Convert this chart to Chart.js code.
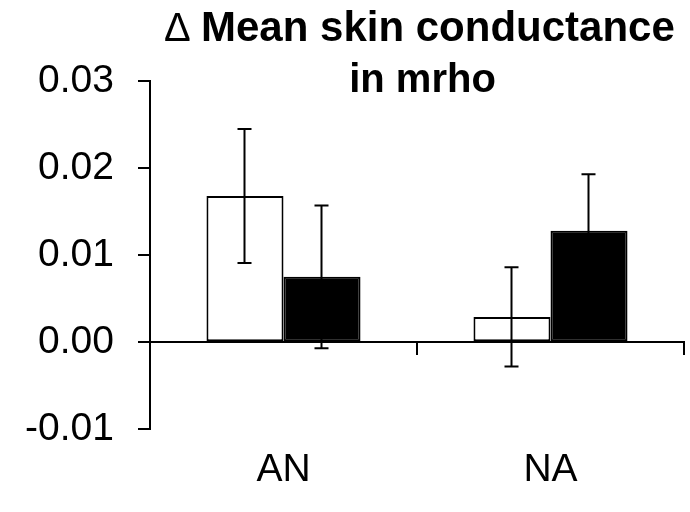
<!DOCTYPE html>
<html>
<head>
<meta charset="utf-8">
<script src="https://cdn.jsdelivr.net/npm/chart.js@4.4.1/dist/chart.umd.min.js"></script>
<style>
  html, body { margin: 0; padding: 0; background: #ffffff; }
  #wrap { width: 690px; height: 512px; }
</style>
</head>
<body>
<div id="wrap"><canvas id="c" width="690" height="512"></canvas></div>
<script>
// ---- data ----
const categories = ['AN', 'NA'];
const whiteValues = [0.0168, 0.0029];
const blackValues = [0.0075, 0.0128];
const whiteErrors = [0.0077, 0.0057];
const blackErrors = [0.0082, 0.0065];
const yMin = -0.01;
const yMax = 0.03;
const yStep = 0.01;
const titleLine1Symbol = '\u0394';
const titleLine1Text = 'Mean skin conductance';
const titleLine2Text = 'in mrho';

const FONT = '"Liberation Sans", Arial, Helvetica, sans-serif';

const errorBarPlugin = {
  id: 'errorBars',
  afterDatasetsDraw(chart) {
    const ctx = chart.ctx;
    const yScale = chart.scales.y;
    chart.data.datasets.forEach((ds, i) => {
      const meta = chart.getDatasetMeta(i);
      meta.data.forEach((bar, j) => {
        const v = ds.data[j];
        const e = ds.errors[j];
        const x = Math.round(bar.x) - 0.5;
        const yTop = yScale.getPixelForValue(v + e);
        const yBot = yScale.getPixelForValue(v - e);
        ctx.save();
        ctx.strokeStyle = '#000';
        ctx.lineWidth = 2;
        ctx.beginPath();
        ctx.moveTo(x, yTop); ctx.lineTo(x, yBot);
        ctx.moveTo(x - 7, yTop); ctx.lineTo(x + 7, yTop);
        ctx.moveTo(x - 7, yBot); ctx.lineTo(x + 7, yBot);
        ctx.stroke();
        ctx.restore();
      });
    });
  }
};

const titlePlugin = {
  id: 'overlayTitle',
  afterDraw(chart) {
    const ctx = chart.ctx;
    ctx.save();
    ctx.fillStyle = '#000';
    ctx.textBaseline = 'alphabetic';
    ctx.textAlign = 'left';
    // line 1: delta symbol (regular weight) + bold text
    ctx.font = '40px ' + FONT;
    ctx.fillText(titleLine1Symbol, 164, 41);
    ctx.font = 'bold 42px ' + FONT;
    ctx.fillText(titleLine1Text, 201, 41);
    // line 2
    ctx.textAlign = 'center';
    ctx.font = 'bold 40px ' + FONT;
    ctx.fillText(titleLine2Text, 422.5, 92);
    ctx.restore();
  }
};

new Chart(document.getElementById('c'), {
  type: 'bar',
  data: {
    labels: categories,
    datasets: [
      {
        label: 'Series 1',
        data: whiteValues,
        errors: whiteErrors,
        backgroundColor: '#ffffff',
        borderColor: '#000000',
        borderWidth: 2,
        borderSkipped: false
      },
      {
        label: 'Series 2',
        data: blackValues,
        errors: blackErrors,
        backgroundColor: '#000000',
        borderColor: '#000000',
        borderWidth: 2,
        borderSkipped: false
      }
    ]
  },
  options: {
    responsive: false,
    animation: false,
    devicePixelRatio: 1,
    categoryPercentage: 0.577,
    barPercentage: 1.0,
    layout: { padding: { top: 81, right: 6, bottom: 0, left: 0 } },
    plugins: {
      legend: { display: false },
      title: { display: false },
      tooltip: { enabled: false }
    },
    scales: {
      x: {
        type: 'category',
        position: { y: 0 },
        offset: true,
        grid: {
          offset: true,
          drawOnChartArea: false,
          drawTicks: true,
          tickLength: 12,
          color: '#000',
          lineWidth: 2
        },
        border: { display: true, color: '#000', width: 2 },
        ticks: { display: false }
      },
      x2: {
        type: 'category',
        position: 'bottom',
        offset: true,
        labels: categories,
        grid: { display: false, drawTicks: false },
        border: { display: false },
        ticks: {
          color: '#000',
          padding: 18,
          font: { family: FONT, size: 39 }
        }
      },
      y: {
        min: yMin,
        max: yMax,
        afterFit(scale) { scale.width = 150; },
        grid: {
          drawOnChartArea: false,
          drawTicks: true,
          tickLength: 12,
          color: '#000',
          lineWidth: 2
        },
        border: { display: true, color: '#000', width: 2 },
        ticks: {
          stepSize: yStep,
          color: '#000',
          padding: 24,
          font: { family: FONT, size: 39 },
          callback: (v) => Number(v).toFixed(2)
        }
      }
    }
  },
  plugins: [errorBarPlugin, titlePlugin]
});
</script>
</body>
</html>
